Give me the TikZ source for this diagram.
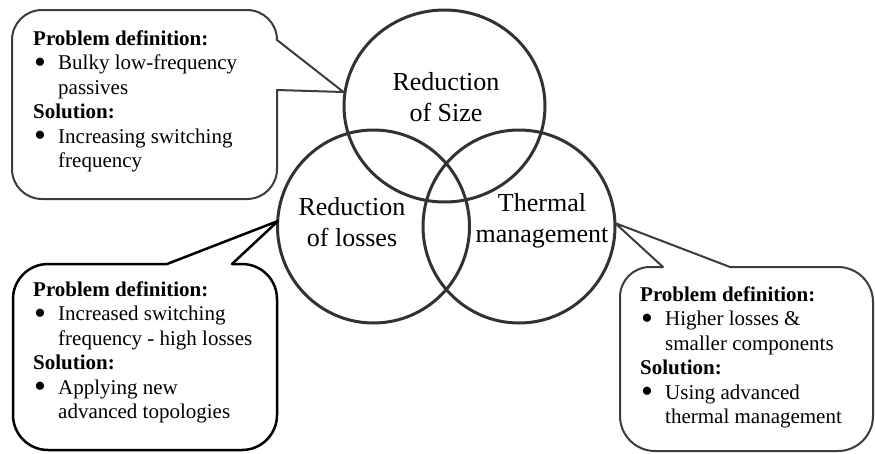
\documentclass[tikz,border=0pt]{standalone}
\usepackage{fontspec}
\setmainfont{Liberation Serif}
\usetikzlibrary{shapes.geometric}
\definecolor{vgray}{RGB}{50,50,50}
\definecolor{cgray}{RGB}{60,60,60}
\newcommand\cbul{\makebox[25pt][l]{\hspace{1pt}\raisebox{-3.5pt}{\fontsize{34}{24}\selectfont\textbullet}}}
\newcommand\cind{\makebox[25pt]{}}
\begin{document}
\begin{tikzpicture}[x=1pt,y=-1pt,
  venn/.style={draw=vgray, line width=3pt, ellipse, inner sep=0pt},
  vlabel/.style={align=center, inner sep=0pt, font=\fontsize{26}{31}\selectfont},
  callout/.style={draw=cgray, line width=2pt, line join=round},
  calloutdark/.style={draw=black, line width=2.5pt, line join=round},
  ctext/.style={align=left, anchor=west, inner sep=0pt, font=\fontsize{21}{24.5}\selectfont}]
\useasboundingbox (0,0) rectangle (875,453);

% Venn circles
\node[venn, minimum width=201pt, minimum height=192pt] (size) at (444.5,106) {};
\node[venn, minimum width=192pt, minimum height=193pt] (loss) at (373.5,226.5) {};
\node[venn, minimum width=192pt, minimum height=193pt] (therm) at (519,226.5) {};

\node[vlabel] (sizel) at (446,97.5) {Reduction\\of Size};
\node[vlabel] (lossl) at (352,222.5) {Reduction\\of losses};
\node[vlabel] (therml) at (542,221) {Thermal\\management};

% callout tips
\coordinate (tipA) at (343.5,92);
\coordinate (tipB) at (278,221);
\coordinate (tipC) at (615,223);

% top-left callout
\draw[callout] (42,10) -- (247,10) arc[start angle=-90,end angle=0,radius=30]
  -- (tipA) -- (277,90) -- (277,169) arc[start angle=0,end angle=90,radius=30]
  -- (42,199) arc[start angle=90,end angle=180,radius=30]
  -- (12,40) arc[start angle=180,end angle=270,radius=30] -- cycle;

% bottom-left callout
\draw[calloutdark] (48,264) -- (167,264) -- (tipB) -- (232,264) -- (242,264)
  arc[start angle=-90,end angle=0,radius=35]
  -- (277,415) arc[start angle=0,end angle=90,radius=35]
  -- (48,450) arc[start angle=90,end angle=180,radius=35]
  -- (13,299) arc[start angle=180,end angle=270,radius=35] -- cycle;

% bottom-right callout
\draw[callout] (650,267) -- (663,267) -- (tipC) -- (730,267) -- (838,267)
  arc[start angle=-90,end angle=0,radius=35]
  -- (873,416) arc[start angle=0,end angle=90,radius=35]
  -- (655,451) arc[start angle=90,end angle=180,radius=35]
  -- (620,297) arc[start angle=180,end angle=270,radius=30] -- cycle;

% callout texts
\node[ctext] (txtA) at (33,101.5) {\textbf{Problem definition:}\\
\cbul Bulky low-frequency\\
\cind passives\\
\textbf{Solution:}\\
\cbul Increasing switching\\
\cind frequency};

\node[ctext] (txtB) at (33,352.5) {\textbf{Problem definition:}\\
\cbul Increased switching\\
\cind frequency - high losses\\
\textbf{Solution:}\\
\cbul Applying new\\
\cind advanced topologies};

\node[ctext] (txtC) at (640,357.5) {\textbf{Problem definition:}\\
\cbul Higher losses \&\\
\cind smaller components\\
\textbf{Solution:}\\
\cbul Using advanced\\
\cind thermal management};
\end{tikzpicture}
\end{document}
